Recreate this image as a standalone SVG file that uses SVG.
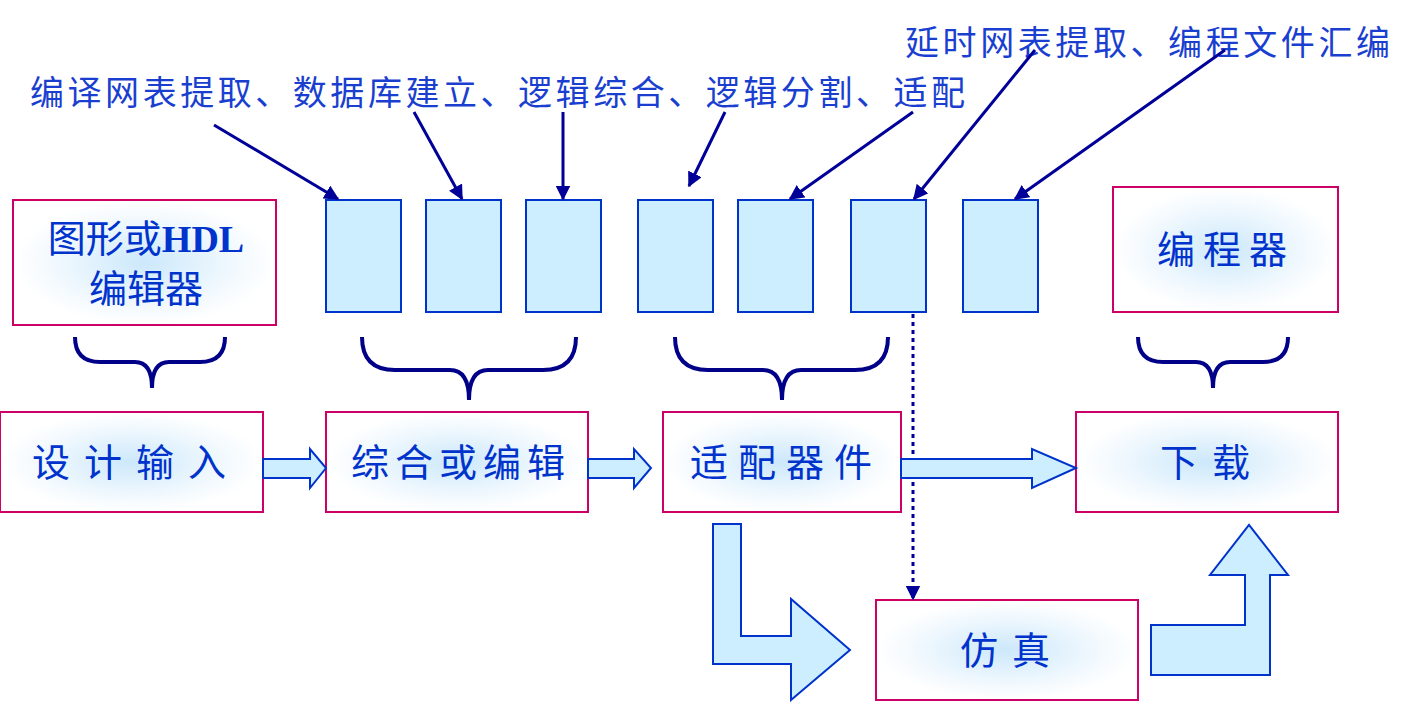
<svg xmlns="http://www.w3.org/2000/svg" width="1414" height="702" viewBox="0 0 1414 702">
<defs>
<radialGradient id="g"><stop offset="0" stop-color="#cce8fb"/><stop offset="0.7" stop-color="#f2f9fe"/><stop offset="1" stop-color="#ffffff"/></radialGradient>
<marker id="a" viewBox="0 0 10 10" refX="9" refY="5" markerWidth="5" markerHeight="5" orient="auto"><path d="M0,0L10,5L0,10z" fill="#000099"/></marker>
<style>
.box{fill:url(#g);stroke:#cc0066;stroke-width:2}
.sm{fill:#cceeff;stroke:#0033cc;stroke-width:2}
.t{font-family:"Noto Sans CJK SC","Liberation Serif",serif;fill:#0033cc;font-size:38px;text-anchor:middle}
.top{font-family:"Noto Sans CJK SC",sans-serif;fill:#1a3fd0;font-size:34px}
.ln{stroke:#000099;stroke-width:3;fill:none}
.br{stroke:#000088;stroke-width:4;fill:none}
.ha{fill:#cceeff;stroke:#0033cc;stroke-width:2}
</style>
</defs>
<text class="top" x="30" y="105" textLength="935">编译网表提取、数据库建立、逻辑综合、逻辑分割、适配</text>
<text class="top" x="905" y="55" textLength="485">延时网表提取、编程文件汇编</text>
<g id="s1"><rect class="sm" x="326" y="200" width="75" height="112"/></g>
<g id="s2"><rect class="sm" x="426" y="200" width="75" height="112"/></g>
<g id="s3"><rect class="sm" x="526" y="200" width="75" height="112"/></g>
<g id="s4"><rect class="sm" x="638" y="200" width="75" height="112"/></g>
<g id="s5"><rect class="sm" x="738" y="200" width="75" height="112"/></g>
<g id="s6"><rect class="sm" x="851" y="200" width="75" height="112"/></g>
<g id="s7"><rect class="sm" x="963" y="200" width="75" height="112"/></g>
<g id="editor"><rect class="box" x="13" y="200" width="263" height="125"/><text class="t" x="146" y="252">图形或<tspan font-family="Liberation Serif" font-weight="bold">HDL</tspan></text><text class="t" x="146" y="302">编辑器</text></g>
<g id="prog"><rect class="box" x="1113" y="187" width="225" height="125"/><text class="t" x="1226" y="263" letter-spacing="8">编程器</text></g>
<g id="input"><rect class="box" x="0" y="412" width="263" height="100"/><text class="t" x="136" y="476" letter-spacing="14">设计输入</text></g>
<g id="synth"><rect class="box" x="326" y="412" width="262" height="100"/><text class="t" x="461" y="476" letter-spacing="6">综合或编辑</text></g>
<g id="fit"><rect class="box" x="663" y="412" width="238" height="100"/><text class="t" x="786" y="476" letter-spacing="10">适配器件</text></g>
<g id="dl"><rect class="box" x="1076" y="412" width="262" height="100"/><text class="t" x="1212" y="476" letter-spacing="14">下载</text></g>
<g id="sim"><rect class="box" x="876" y="600" width="262" height="100"/><text class="t" x="1012" y="664" letter-spacing="14">仿真</text></g>
<g id="connectors">
<line class="ln" x1="214" y1="125" x2="338" y2="199" marker-end="url(#a)"/>
<line class="ln" x1="414" y1="112" x2="462" y2="199" marker-end="url(#a)"/>
<line class="ln" x1="563" y1="112" x2="563" y2="199" marker-end="url(#a)"/>
<line class="ln" x1="725" y1="112" x2="689" y2="186" marker-end="url(#a)"/>
<line class="ln" x1="913" y1="112" x2="790" y2="199" marker-end="url(#a)"/>
<line class="ln" x1="1035" y1="50" x2="914" y2="199" marker-end="url(#a)"/>
<line class="ln" x1="1225" y1="50" x2="1015" y2="199" marker-end="url(#a)"/>
<line class="ln" x1="913" y1="314" x2="913" y2="599" stroke-dasharray="4,4" marker-end="url(#a)"/>
<path class="br" d="M75,337 Q75,362 100,362 L135,362 Q152,362 152,388 Q152,362 169,362 L200,362 Q225,362 225,337"/>
<path class="br" d="M362,337 Q362,370 395,370 L450,370 Q469,370 469,400 Q469,370 488,370 L543,370 Q576,370 576,337"/>
<path class="br" d="M675,337 Q675,370 708,370 L763,370 Q782,370 782,400 Q782,370 801,370 L855,370 Q888,370 888,337"/>
<path class="br" d="M1138,337 Q1138,362 1163,362 L1196,362 Q1213,362 1213,388 Q1213,362 1230,362 L1263,362 Q1288,362 1288,337"/>
<path class="ha" d="M263,459 L310,459 L310,449 L326,468 L310,488 L310,478 L263,478z"/>
<path class="ha" d="M588,459 L634,459 L634,449 L651,468 L634,488 L634,478 L588,478z"/>
<path class="ha" d="M901,459 L1032,459 L1032,449 L1076,468 L1032,488 L1032,478 L901,478z"/>
<path class="ha" d="M713,524 L741,524 L741,636 L791,636 L791,599 L850,650 L791,700 L791,664 L713,664z"/>
<path class="ha" d="M1151,625 L1245,625 L1245,575 L1210,575 L1249,525 L1288,575 L1270,575 L1270,675 L1151,675z"/>
</g>
</svg>
